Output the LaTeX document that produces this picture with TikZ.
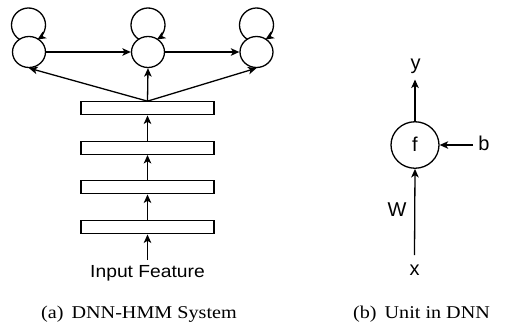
\documentclass[tikz,border=0pt]{standalone}
\usepackage{fontspec}
\setmainfont{Liberation Serif}
\newfontfamily\dsans{Liberation Sans}
\usetikzlibrary{arrows.meta,shapes.geometric}
\begin{document}
\begin{tikzpicture}[x=1pt,y=-1pt,
  line width=1.3pt,
  arr/.style={-{Stealth[length=8.5pt,width=7.5pt,inset=2.2pt]}},
  state/.style={draw,ellipse,minimum width=33pt,minimum height=31pt,inner sep=0pt},
  layer/.style={draw,rectangle,minimum width=133pt,minimum height=13pt,inner sep=0pt},
  unit/.style={draw,ellipse,minimum width=48pt,minimum height=46.5pt,inner sep=0pt},
  lbl/.style={font=\dsans\fontsize{20}{23}\selectfont,inner sep=0pt,anchor=base},
  captxt/.style={font=\fontsize{18}{21}\selectfont,inner sep=0pt,anchor=base}]
\useasboundingbox (0,0) rectangle (513,324);
% HMM states
\node[state] (s1) at (29,52) {};
\node[state] (s2) at (148,52) {};
\node[state] (s3) at (256.5,52) {};
% self loops
\coordinate (l1) at (28.5,25);
\coordinate (l2) at (148,25);
\coordinate (l3) at (256.5,25);
\foreach \c in {l1,l2,l3}{
  \draw[arr] (\c) ++(121.7:17) arc[start angle=121.7,end angle=418.3,radius=17];
}
\draw[arr] (s1) -- (s2);
\draw[arr] (s2) -- (s3);
% DNN layers
\node[layer] (h1) at (147.5,108.3) {};
\node[layer] (h2) at (147.5,147.8) {};
\node[layer] (h3) at (147.5,187.3) {};
\node[layer] (h4) at (147.5,227.3) {};
\draw[arr] (h1.north) -- (s1.south);
\draw[arr] (h1.north) -- (s2.south);
\draw[arr] (h1.north) -- (s3.south);
\draw[arr] (h2) -- (h1);
\draw[arr] (h3) -- (h2);
\draw[arr] (h4) -- (h3);
\node[lbl,font=\dsans\fontsize{17.5}{20}\selectfont] (inp) at (147.5,277.7) {\scalebox{1.1}[1]{Input Feature}};
\coordinate (inptop) at (147.5,260);
\draw[arr] (inptop) -- (h4);
% Unit
\node[unit] (u) at (415,145) {};
\node[lbl] (f) at (415,151) {f};
\node[lbl] (yl) at (415.5,69) {y};
\node[lbl] (bl) at (484,150.7) {b};
\node[lbl] (wl) at (397,216.5) {W};
\node[lbl] (xl) at (414.5,275) {x};
\coordinate (ytip) at (415,79.5);
\coordinate (btail) at (473,145);
\coordinate (xtail) at (414.5,255);
\draw[arr] (u.north) -- (ytip);
\draw[arr] (btail) -- (u.east);
\draw[arr] (xtail) -- (u.south);
% captions
\node[captxt] (ca) at (139,318) {\scalebox{1.12}[1]{(a)\hspace{0.4em}DNN-HMM System}};
\node[captxt] (cb) at (421.5,318) {\scalebox{1.12}[1]{(b)\hspace{0.4em}Unit in DNN}};
\end{tikzpicture}
\end{document}
